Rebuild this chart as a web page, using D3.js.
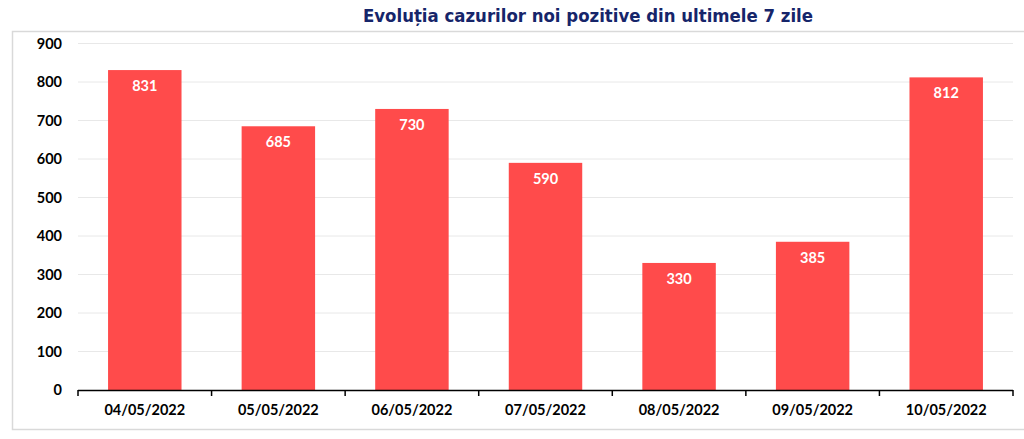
<!DOCTYPE html>
<html><head><meta charset="utf-8">
<script src="https://cdn.jsdelivr.net/npm/d3@7"></script>
<style>body{margin:0;background:#fff;}svg{display:block;}</style>
</head><body>
<svg id="c" width="1024" height="439"></svg>
<script>
const titleText = "Evoluția cazurilor noi pozitive din ultimele 7 zile";
const categories = ["04/05/2022","05/05/2022","06/05/2022","07/05/2022","08/05/2022","09/05/2022","10/05/2022"];
const values = [831,685,730,590,330,385,812];
const yTicks = [0,100,200,300,400,500,600,700,800,900];

(function(){
const svg = d3.select("#c");
const mLeft = 78, mRight = 1013, mTop = 43.5, mBottom = 390;

svg.append("rect").attr("x",12.5).attr("y",31.5).attr("width",1030).attr("height",398)
  .attr("fill","#fff").attr("stroke","#d9d9d9").attr("stroke-width",1.5);

svg.append("text").attr("x",588).attr("y",21.5).attr("text-anchor","middle")
  .attr("font-family","DejaVu Sans Condensed, DejaVu Sans").attr("font-weight","bold")
  .attr("font-size",18.5).attr("fill","#16256a")
  .attr("textLength",450).attr("lengthAdjust","spacingAndGlyphs")
  .text(titleText);

const x = d3.scaleBand().domain(categories).range([mLeft,mRight]).paddingInner(0.45).paddingOuter(0.225);
const xb = d3.scaleBand().domain(categories).range([mLeft,mRight]);
const y = d3.scaleLinear().domain([0,900]).range([mBottom,mTop]);

svg.append("g").selectAll("line").data(yTicks.filter(d=>d>0)).join("line")
  .attr("x1",mLeft).attr("x2",mRight).attr("y1",d=>y(d)).attr("y2",d=>y(d))
  .attr("stroke","#e8e8e8").attr("stroke-width",1);

svg.append("g").selectAll("text").data(yTicks).join("text")
  .attr("x",62).attr("y",d=>y(d)+5).attr("text-anchor","end")
  .attr("font-family","Lato, sans-serif").attr("font-weight","bold").attr("font-size",14.5).attr("fill","#000")
  .text(d=>d);

svg.append("g").selectAll("rect").data(values).join("rect")
  .attr("x",(d,i)=>x(categories[i])).attr("width",x.bandwidth())
  .attr("y",d=>y(d)).attr("height",d=>mBottom-y(d))
  .attr("fill","#ff4b4b");

svg.append("g").selectAll("text").data(values).join("text")
  .attr("x",(d,i)=>x(categories[i])+x.bandwidth()/2).attr("y",d=>y(d)+21)
  .attr("text-anchor","middle")
  .attr("font-family","Lato, sans-serif").attr("font-weight","bold").attr("font-size",14.5).attr("fill","#fff")
  .text(d=>d);

const ax = svg.append("g");
ax.append("line").attr("x1",mLeft).attr("x2",mRight).attr("y1",mBottom+0.5).attr("y2",mBottom+0.5)
  .attr("stroke","#000").attr("stroke-width",1.5);
const bounds = categories.map(c=>xb(c)).concat([mRight]);
ax.selectAll("line.t").data(bounds).join("line").attr("class","t")
  .attr("x1",d=>d).attr("x2",d=>d).attr("y1",mBottom).attr("y2",mBottom+6)
  .attr("stroke","#000").attr("stroke-width",1.5);
ax.selectAll("text").data(categories).join("text")
  .attr("x",d=>xb(d)+xb.bandwidth()/2).attr("y",415).attr("text-anchor","middle")
  .attr("font-family","Lato, sans-serif").attr("font-weight","bold").attr("font-size",14.5).attr("fill","#000")
  .text(d=>d);
})();
</script>
</body></html>
